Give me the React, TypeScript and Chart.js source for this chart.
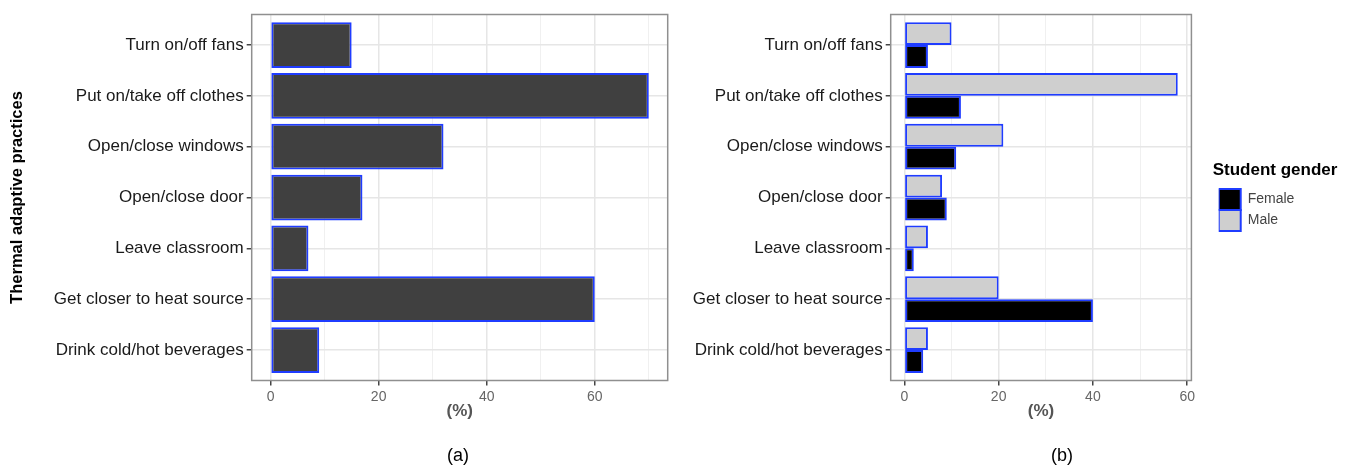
import React, { useEffect, useRef } from 'react';
import { Chart, registerables } from 'chart.js';

Chart.register(...registerables);

// ---------- data ----------
const categories = [
  'Turn on/off fans',
  'Put on/take off clothes',
  'Open/close windows',
  'Open/close door',
  'Leave classroom',
  'Get closer to heat source',
  'Drink cold/hot beverages',
];
const overallPct = [15, 70, 32, 17, 7, 60, 9];
const malePct = [10, 58, 21, 8, 5, 20, 5];
const femalePct = [5, 12, 11, 9, 2, 40, 4];
const leftXTicks = [0, 10, 20, 30, 40, 50, 60, 70];
const rightXTicks = [0, 10, 20, 30, 40, 50, 60];
const labeledXTicks = [0, 20, 40, 60];
const legendHeading = 'Student gender';

// ---------- styles ----------
const FONT = "'Liberation Sans', Arial, Helvetica, sans-serif";
const BLUE = '#1f3cff';
const GRID_MAJOR = '#e6e6e6';
const GRID_MINOR = '#f0f0f0';
const TICK = '#444444';
const PANEL_BORDER = '#8f8f8f';

Chart.defaults.font.family = FONT;

const panelBorder = {
  id: 'panelBorder',
  afterDatasetsDraw(chart: any) {
    const { ctx, chartArea: a } = chart;
    ctx.save();
    ctx.strokeStyle = PANEL_BORDER;
    ctx.lineWidth = 1.5;
    ctx.strokeRect(a.left, a.top, a.right - a.left, a.bottom - a.top);
    ctx.restore();
  },
};

// draws the legend heading unclipped (Chart.js clips the legend title to the legend box)
const legendHeadingPlugin = {
  id: 'legendHeading',
  afterDraw(chart: any) {
    const L = chart.legend;
    if (!L || !L.legendHitBoxes || !L.legendHitBoxes.length) return;
    const firstTop = Math.min(...L.legendHitBoxes.map((h: any) => h.top));
    const { ctx } = chart;
    ctx.save();
    ctx.font = `bold 17px ${FONT}`;
    ctx.fillStyle = '#000000';
    ctx.textAlign = 'left';
    ctx.textBaseline = 'middle';
    ctx.fillText(legendHeading, L.left - 6, firstTop - 19);
    ctx.restore();
  },
};

const isMajor = (c: any) => c && c.tick && labeledXTicks.includes(c.tick.value);

function xScale(min: number, max: number, tickVals: number[]) {
  return {
    type: 'linear',
    position: 'bottom',
    min,
    max,
    bounds: 'data',
    offset: false,
    afterBuildTicks: (s: any) => {
      s.ticks = tickVals.map((v) => ({ value: v }));
    },
    afterFit: (s: any) => {
      s.height = 41;
    },
    ticks: {
      autoSkip: false,
      maxRotation: 0,
      padding: 3,
      color: '#666666',
      font: { size: 14 },
      callback: (v: any) => (labeledXTicks.includes(v) ? String(v) : ''),
    },
    grid: {
      offset: false,
      color: (c: any) => (isMajor(c) ? GRID_MAJOR : GRID_MINOR),
      lineWidth: (c: any) => (isMajor(c) ? 1.5 : 1),
      tickLength: 5,
      tickWidth: 1.5,
      tickColor: (c: any) => (isMajor(c) ? TICK : 'rgba(0,0,0,0)'),
    },
    border: { display: false },
    title: {
      display: true,
      text: '(%)',
      color: '#555555',
      font: { size: 17, weight: 'bold' },
      padding: { top: 0, bottom: 0 },
    },
  };
}

function yScale(width: number, withTitle: boolean) {
  return {
    type: 'linear',
    position: 'left',
    reverse: true,
    offset: false,
    min: -0.6,
    max: categories.length - 0.4,
    bounds: 'data',
    afterBuildTicks: (s: any) => {
      s.ticks = categories.map((_, i) => ({ value: i }));
    },
    afterFit: (s: any) => {
      s.width = width;
    },
    ticks: {
      autoSkip: false,
      padding: 3,
      color: '#1a1a1a',
      font: { size: 17 },
      callback: (v: any) => categories[v],
    },
    grid: {
      offset: false,
      color: GRID_MAJOR,
      lineWidth: 1.5,
      tickLength: 5,
      tickWidth: 1.5,
      tickColor: TICK,
    },
    border: { display: false },
    title: {
      display: withTitle,
      text: 'Thermal adaptive practices',
      color: '#000000',
      font: { size: 16.5, weight: 'bold' },
      padding: { top: 8, bottom: 0 },
    },
  };
}

export default function App() {
  const leftRef = useRef<HTMLCanvasElement | null>(null);
  const rightRef = useRef<HTMLCanvasElement | null>(null);

  useEffect(() => {
    const left = new Chart(leftRef.current as HTMLCanvasElement, {
      type: 'bar',
      data: {
        datasets: [
          {
            label: 'All students',
            data: overallPct.map((v, i) => ({ x: v, y: i })),
            backgroundColor: '#404040',
            borderColor: BLUE,
            borderWidth: 2,
            borderSkipped: false,
            categoryPercentage: 0.9,
            barPercentage: 1,
          },
        ],
      },
      options: {
        indexAxis: 'y',
        responsive: false,
        animation: false,
        layout: { padding: { left: 0, top: 14.5, right: 12.3, bottom: 46.5 } },
        scales: {
          x: xScale(-3.5, 73.5, leftXTicks),
          y: yScale(251.7, true),
        },
        plugins: { legend: { display: false }, tooltip: { enabled: false } },
      } as any,
      plugins: [panelBorder],
    });

    const right = new Chart(rightRef.current as HTMLCanvasElement, {
      type: 'bar',
      data: {
        datasets: [
          {
            label: 'Male',
            data: malePct.map((v, i) => ({ x: v, y: i })),
            backgroundColor: '#cfcfcf',
            borderColor: BLUE,
            borderWidth: 2,
            borderSkipped: false,
            categoryPercentage: 0.9,
            barPercentage: 1,
          },
          {
            label: 'Female',
            data: femalePct.map((v, i) => ({ x: v, y: i })),
            backgroundColor: '#000000',
            borderColor: BLUE,
            borderWidth: 2,
            borderSkipped: false,
            categoryPercentage: 0.9,
            barPercentage: 1,
          },
        ],
      },
      options: {
        indexAxis: 'y',
        responsive: false,
        animation: false,
        layout: { padding: { left: 0, top: 14.5, right: 47.6, bottom: 46.5 } },
        scales: {
          x: xScale(-2.9, 60.9, rightXTicks),
          y: yScale(210.7, false),
          gap: {
            type: 'linear',
            axis: 'y',
            position: 'right',
            display: true,
            afterFit: (s: any) => {
              s.width = 27.3;
            },
            ticks: { display: false },
            grid: { display: false, drawTicks: false },
            border: { display: false },
          },
        },
        plugins: {
          tooltip: { enabled: false },
          legend: {
            display: true,
            position: 'right',
            fullSize: false,
            reverse: true,
            align: 'center',
            title: {
              display: true,
              text: ' ',
              position: 'start',
              color: '#000000',
              font: { size: 17, weight: 'bold' },
              padding: { top: 0, bottom: 4.6 },
            },
            labels: {
              boxWidth: 22,
              boxHeight: 21,
              padding: 0,
              color: '#444444',
              font: { size: 14 },
            },
          },
        },
      } as any,
      plugins: [panelBorder, legendHeadingPlugin],
    });

    return () => {
      left.destroy();
      right.destroy();
    };
  }, []);

  const caption: React.CSSProperties = {
    position: 'absolute',
    top: 444,
    width: 100,
    textAlign: 'center',
    fontFamily: FONT,
    fontSize: 18,
    lineHeight: '22px',
    color: '#000',
  };

  return (
    <div
      style={{
        position: 'absolute',
        left: 0,
        top: 0,
        width: 1352,
        height: 468,
        background: '#ffffff',
        overflow: 'hidden',
      }}
    >
      <canvas
        ref={leftRef}
        width={680}
        height={468}
        style={{ position: 'absolute', left: 0, top: 0, width: 680, height: 468 }}
      />
      <canvas
        ref={rightRef}
        width={672}
        height={468}
        style={{ position: 'absolute', left: 680, top: 0, width: 672, height: 468 }}
      />
      <div style={{ ...caption, left: 458 - 50 }}>(a)</div>
      <div style={{ ...caption, left: 1062 - 50 }}>(b)</div>
    </div>
  );
}
